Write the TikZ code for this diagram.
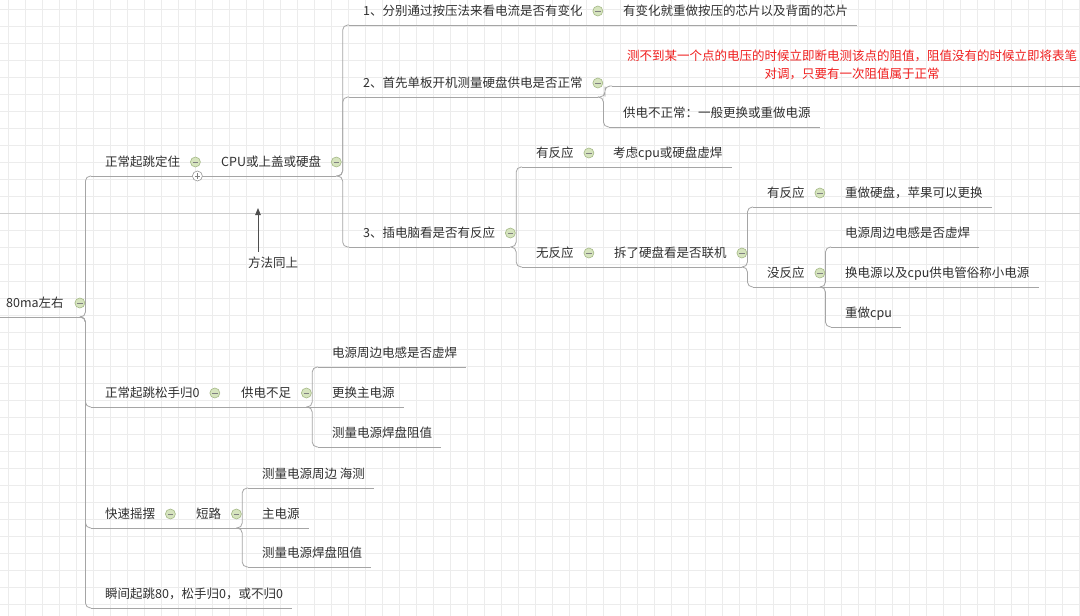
\documentclass[tikz,border=0pt]{standalone}
\usepackage{fontspec}
\setmainfont{Noto Sans CJK SC}
\usetikzlibrary{arrows.meta,calc}
\definecolor{textgray}{RGB}{48,48,48}
\definecolor{linegray}{RGB}{165,165,165}
\definecolor{notered}{RGB}{240,30,30}
\definecolor{foldfill}{RGB}{214,228,190}
\definecolor{foldedge}{RGB}{165,185,135}
\definecolor{gridgray}{RGB}{236,236,236}
\definecolor{majorgray}{RGB}{205,205,205}

\begin{document}
\begin{tikzpicture}[
    x=1pt, y=-1pt,
    base/.style={anchor=south west, inner xsep=0pt, inner ysep=5pt, text height=10pt, text depth=4pt, font=\fontsize{12.5}{15}\selectfont, text=textgray},
    leaf/.style={base, execute at begin node=\hspace*{14pt}, execute at end node=\hspace*{9pt}},
    parent/.style={base, execute at begin node=\hspace*{14pt}, execute at end node=\hspace*{15pt}},
    rootbox/.style={base, execute at begin node=\hspace*{6pt}, execute at end node=\hspace*{16pt}},
    note/.style={anchor=south west, inner xsep=0pt, inner ysep=6pt, align=center, text=notered, minimum width=480pt, font=\fontsize{12.5}{18}\selectfont},
    uline/.style={draw=linegray, line width=0.8pt},
    link/.style={draw=linegray, line width=0.8pt, rounded corners=5pt, to path={-| ($(\tikztostart)!0.5!(\tikztotarget)$) |- (\tikztotarget)}},
    fold/.style={circle, draw=foldedge, line width=0.6pt, fill=foldfill, minimum size=10pt, inner sep=0pt,
      path picture={\draw[gray, line width=0.7pt] ([xshift=-2.8pt]path picture bounding box.center) -- ([xshift=2.8pt]path picture bounding box.center);}},
    unfold/.style={circle, draw=gray!80, line width=0.6pt, fill=white, minimum size=10pt, inner sep=0pt,
      path picture={\draw[gray, line width=0.7pt] ([xshift=-2.8pt]path picture bounding box.center) -- ([xshift=2.8pt]path picture bounding box.center)
        ([yshift=-2.8pt]path picture bounding box.center) -- ([yshift=2.8pt]path picture bounding box.center);}},
    hint/.style={draw=textgray!85, line width=0.8pt, -{Triangle[length=7pt, width=5.5pt]}}
  ]
    \useasboundingbox (0,0) rectangle (1080,616);
    % background grid
    \fill[white] (0,0) rectangle (1080,616);
    \foreach \gx in {8,25,...,1080} \draw[gridgray, line width=0.5pt] (\gx,0) -- (\gx,616);
    \foreach \gy in {9,26,...,616} \draw[gridgray, line width=0.5pt] (0,\gy) -- (1080,\gy);
    \draw[majorgray, line width=0.6pt] (0,213) -- (1080,213);

    % topics
    \node[rootbox] (root) at (0,317) {80ma左右};
    \node[parent] (A) at (91,176) {正常起跳定住};
    \node[parent] (CPU) at (207,176) {CPU或上盖或硬盘};
    \node[parent] (B1) at (349,25) {1、分别通过按压法来看电流是否有变化};
    \node[leaf] (B1a) at (609,25) {有变化就重做按压的芯片以及背面的芯片};
    \node[parent] (B2) at (349,97) {2、首先单板开机测量硬盘供电是否正常};
    \node[note] (note) at (612,86) {测不到某一个点的电压的时候立即断电测该点的阻值，阻值没有的时候立即将表笔\\对调，只要有一次阻值属于正常};
    \node[leaf] (B2b) at (609,127) {供电不正常：一般更换或重做电源};
    \node[parent] (B3) at (349,247) {3、插电脑看是否有反应};
    \node[parent] (C1) at (522,167) {有反应};
    \node[leaf] (C1a) at (599,167) {考虑cpu或硬盘虚焊};
    \node[parent] (C2) at (522,267) {无反应};
    \node[parent] (C2a) at (600,267) {拆了硬盘看是否联机};
    \node[parent] (D1) at (753,207) {有反应};
    \node[leaf] (D1a) at (831,207) {重做硬盘，苹果可以更换};
    \node[parent] (D2) at (753,287) {没反应};
    \node[leaf] (E1) at (831,247) {电源周边电感是否虚焊};
    \node[leaf] (E2) at (831,287) {换电源以及cpu供电管俗称小电源};
    \node[leaf] (E3) at (831,327) {重做cpu};
    \node[parent] (F) at (91,407) {正常起跳松手归0};
    \node[parent] (F1) at (227,407) {供电不足};
    \node[leaf] (F1a) at (318,367) {电源周边电感是否虚焊};
    \node[leaf] (F1b) at (318,407) {更换主电源};
    \node[leaf] (F1c) at (318,447) {测量电源焊盘阻值};
    \node[parent] (G) at (91,528) {快速摇摆};
    \node[parent] (G1) at (182,528) {短路};
    \node[leaf] (G1a) at (248,488) {测量电源周边 海测};
    \node[leaf] (G1b) at (248,528) {主电源};
    \node[leaf] (G1c) at (248,567) {测量电源焊盘阻值};
    \node[leaf] (H) at (91,608) {瞬间起跳80，松手归0，或不归0};
    \node[base, anchor=base west] (same) at (248,267) {方法同上};

    % underlines
    \foreach \n in {root,A,CPU,B1,B1a,B2,B2b,B3,C1,C1a,C2,C2a,D1,D1a,D2,E1,E2,E3,F,F1,F1a,F1b,F1c,G,G1,G1a,G1b,G1c,H,note}
      \draw[uline] (\n.south west) -- (\n.south east);

    % connectors
    \draw[link] (root.south east) to (A.south west);
    \draw[link] (root.south east) to (F.south west);
    \draw[link] (root.south east) to (G.south west);
    \draw[link] (root.south east) to (H.south west);
    \draw[uline] (A.south east) -- (CPU.south west);
    \draw[link] (CPU.south east) to (B1.south west);
    \draw[link] (CPU.south east) to (B2.south west);
    \draw[link] (CPU.south east) to (B3.south west);
    \draw[uline] (B1.south east) -- (B1a.south west);
    \draw[link] (B2.south east) to (note.south west);
    \draw[link] (B2.south east) to (B2b.south west);
    \draw[link] (B3.south east) to (C1.south west);
    \draw[link] (B3.south east) to (C2.south west);
    \draw[uline] (C1.south east) -- (C1a.south west);
    \draw[uline] (C2.south east) -- (C2a.south west);
    \draw[link] (C2a.south east) to (D1.south west);
    \draw[link] (C2a.south east) to (D2.south west);
    \draw[uline] (D1.south east) -- (D1a.south west);
    \draw[link] (D2.south east) to (E1.south west);
    \draw[uline] (D2.south east) -- (E2.south west);
    \draw[link] (D2.south east) to (E3.south west);
    \draw[uline] (F.south east) -- (F1.south west);
    \draw[link] (F1.south east) to (F1a.south west);
    \draw[uline] (F1.south east) -- (F1b.south west);
    \draw[link] (F1.south east) to (F1c.south west);
    \draw[uline] (G.south east) -- (G1.south west);
    \draw[link] (G1.south east) to (G1a.south west);
    \draw[uline] (G1.south east) -- (G1b.south west);
    \draw[link] (G1.south east) to (G1c.south west);

    % hint arrow
    \coordinate (tip) at (258,208);
    \draw[hint] (same.north -| tip) -- (tip);

    % fold markers
    \foreach \n in {root,A,CPU,B1,B2,B3,C1,C2,C2a,D1,D2,F,F1,G,G1}
      \node[fold] (\n-fold) at ([yshift=14pt]\n.south east) {};
    \node[unfold] (A-unfold) at ([xshift=2pt]A.south east) {};
  \end{tikzpicture}
\end{document}
